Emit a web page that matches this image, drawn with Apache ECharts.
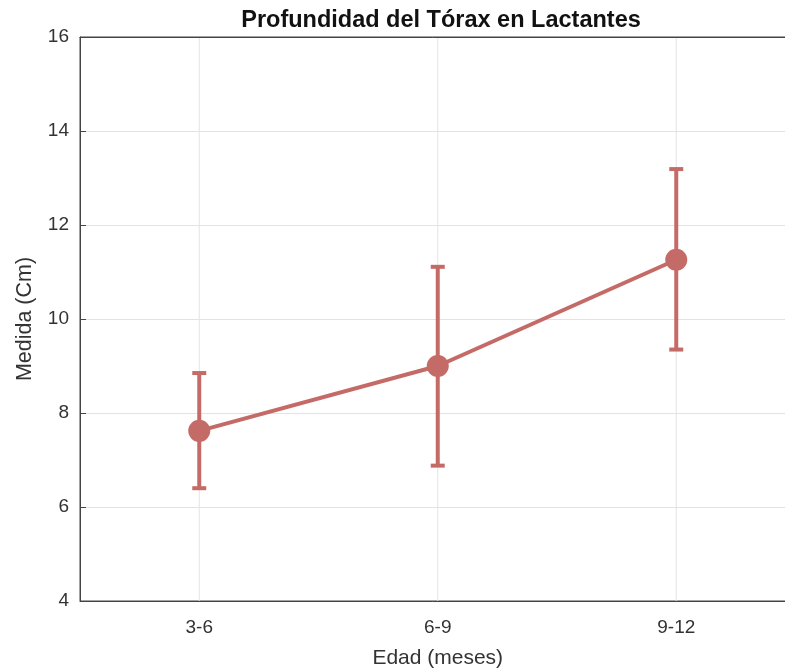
<!DOCTYPE html>
<html>
<head>
<meta charset="utf-8">
<script src="https://cdn.jsdelivr.net/npm/echarts@6/dist/echarts.min.js"></script>
<style>html,body{margin:0;padding:0;background:#fff;}#c{width:785px;height:670px;}</style>
</head>
<body>
<div id="c"></div>
<script>
const categories = ['3-6', '6-9', '9-12'];
const means = [7.62, 9.0, 11.26];
const upper = [8.85, 11.11, 13.19];
const lower = [6.40, 6.88, 9.35];
const yTicks = [4, 6, 8, 10, 12, 14, 16];

const color = '#C56B67';
const txt = '#333333';
const font = 'Liberation Sans, Arial, sans-serif';
const chart = echarts.init(document.getElementById('c'));

const errData = categories.map((c, i) => [i, lower[i], upper[i]]);
const gridData = categories.map((c, i) => [i]);

chart.setOption({
  animation: false,
  title: {
    text: 'Profundidad del Tórax en Lactantes',
    left: 436, top: 4, textAlign: 'center',
    textStyle: { fontFamily: font, fontWeight: 'bold', fontSize: 23.5, color: '#111' }
  },
  grid: { left: 80, top: 37, width: 715.5, height: 564, outerBoundsMode: 'none', containLabel: false,
    show: true, borderColor: '#444', borderWidth: 1, backgroundColor: 'transparent' },
  xAxis: [{
    type: 'category', data: categories, boundaryGap: true,
    name: 'Edad (meses)', nameLocation: 'middle', nameGap: 47,
    nameTextStyle: { fontFamily: font, fontSize: 21, color: txt },
    axisLine: { lineStyle: { color: '#444' } },
    axisTick: { inside: true, alignWithLabel: true, length: 6, lineStyle: { color: '#444' } },
    axisLabel: { fontFamily: font, fontSize: 19, color: txt, margin: 17 },
    splitLine: { show: false }
  }, {
    type: 'category', data: categories, boundaryGap: true, position: 'top',
    axisLine: { lineStyle: { color: '#444' } },
    axisTick: { inside: true, alignWithLabel: true, length: 6, lineStyle: { color: '#444' } },
    axisLabel: { show: false }, splitLine: { show: false }
  }],
  yAxis: {
    type: 'value', min: 4, max: 16, interval: 2,
    name: 'Medida (Cm)', nameLocation: 'middle', nameGap: 44,
    nameTextStyle: { fontFamily: font, fontSize: 21.5, color: txt },
    axisLine: { show: true, lineStyle: { color: '#444' } },
    axisTick: { show: true, inside: true, length: 6, lineStyle: { color: '#444' } },
    axisLabel: { fontFamily: font, fontSize: 19, color: txt, margin: 11,
      formatter: v => yTicks.includes(v) ? String(v) : '' },
    splitLine: { show: true, lineStyle: { color: '#e3e3e3', width: 1 } }
  },
  series: [
    {
      type: 'custom', z: 0, data: gridData, silent: true,
      renderItem: function (params, api) {
        const x = api.value(0);
        const a = api.coord([x, 4]);
        const b = api.coord([x, 16]);
        return { type: 'line', shape: { x1: a[0], y1: a[1], x2: b[0], y2: b[1] },
          style: { stroke: '#e3e3e3', lineWidth: 1 } };
      }
    },
    {
      type: 'custom', z: 5, data: errData, silent: true,
      renderItem: function (params, api) {
        const x = api.value(0);
        const lo = api.coord([x, api.value(1)]);
        const hi = api.coord([x, api.value(2)]);
        const w = 7, t = 4;
        const st = { fill: color, stroke: null, lineWidth: 0 };
        return {
          type: 'group', children: [
            { type: 'rect', shape: { x: lo[0] - t / 2, y: hi[1], width: t, height: lo[1] - hi[1] }, style: st },
            { type: 'rect', shape: { x: lo[0] - w, y: lo[1] - t / 2, width: 2 * w, height: t }, style: st },
            { type: 'rect', shape: { x: hi[0] - w, y: hi[1] - t / 2, width: 2 * w, height: t }, style: st }
          ]
        };
      }
    },
    {
      type: 'line', z: 6, data: means,
      symbol: 'circle', symbolSize: 22,
      lineStyle: { color: color, width: 4 },
      itemStyle: { color: color },
      emphasis: { disabled: true }
    }
  ]
});
</script>
</body>
</html>
